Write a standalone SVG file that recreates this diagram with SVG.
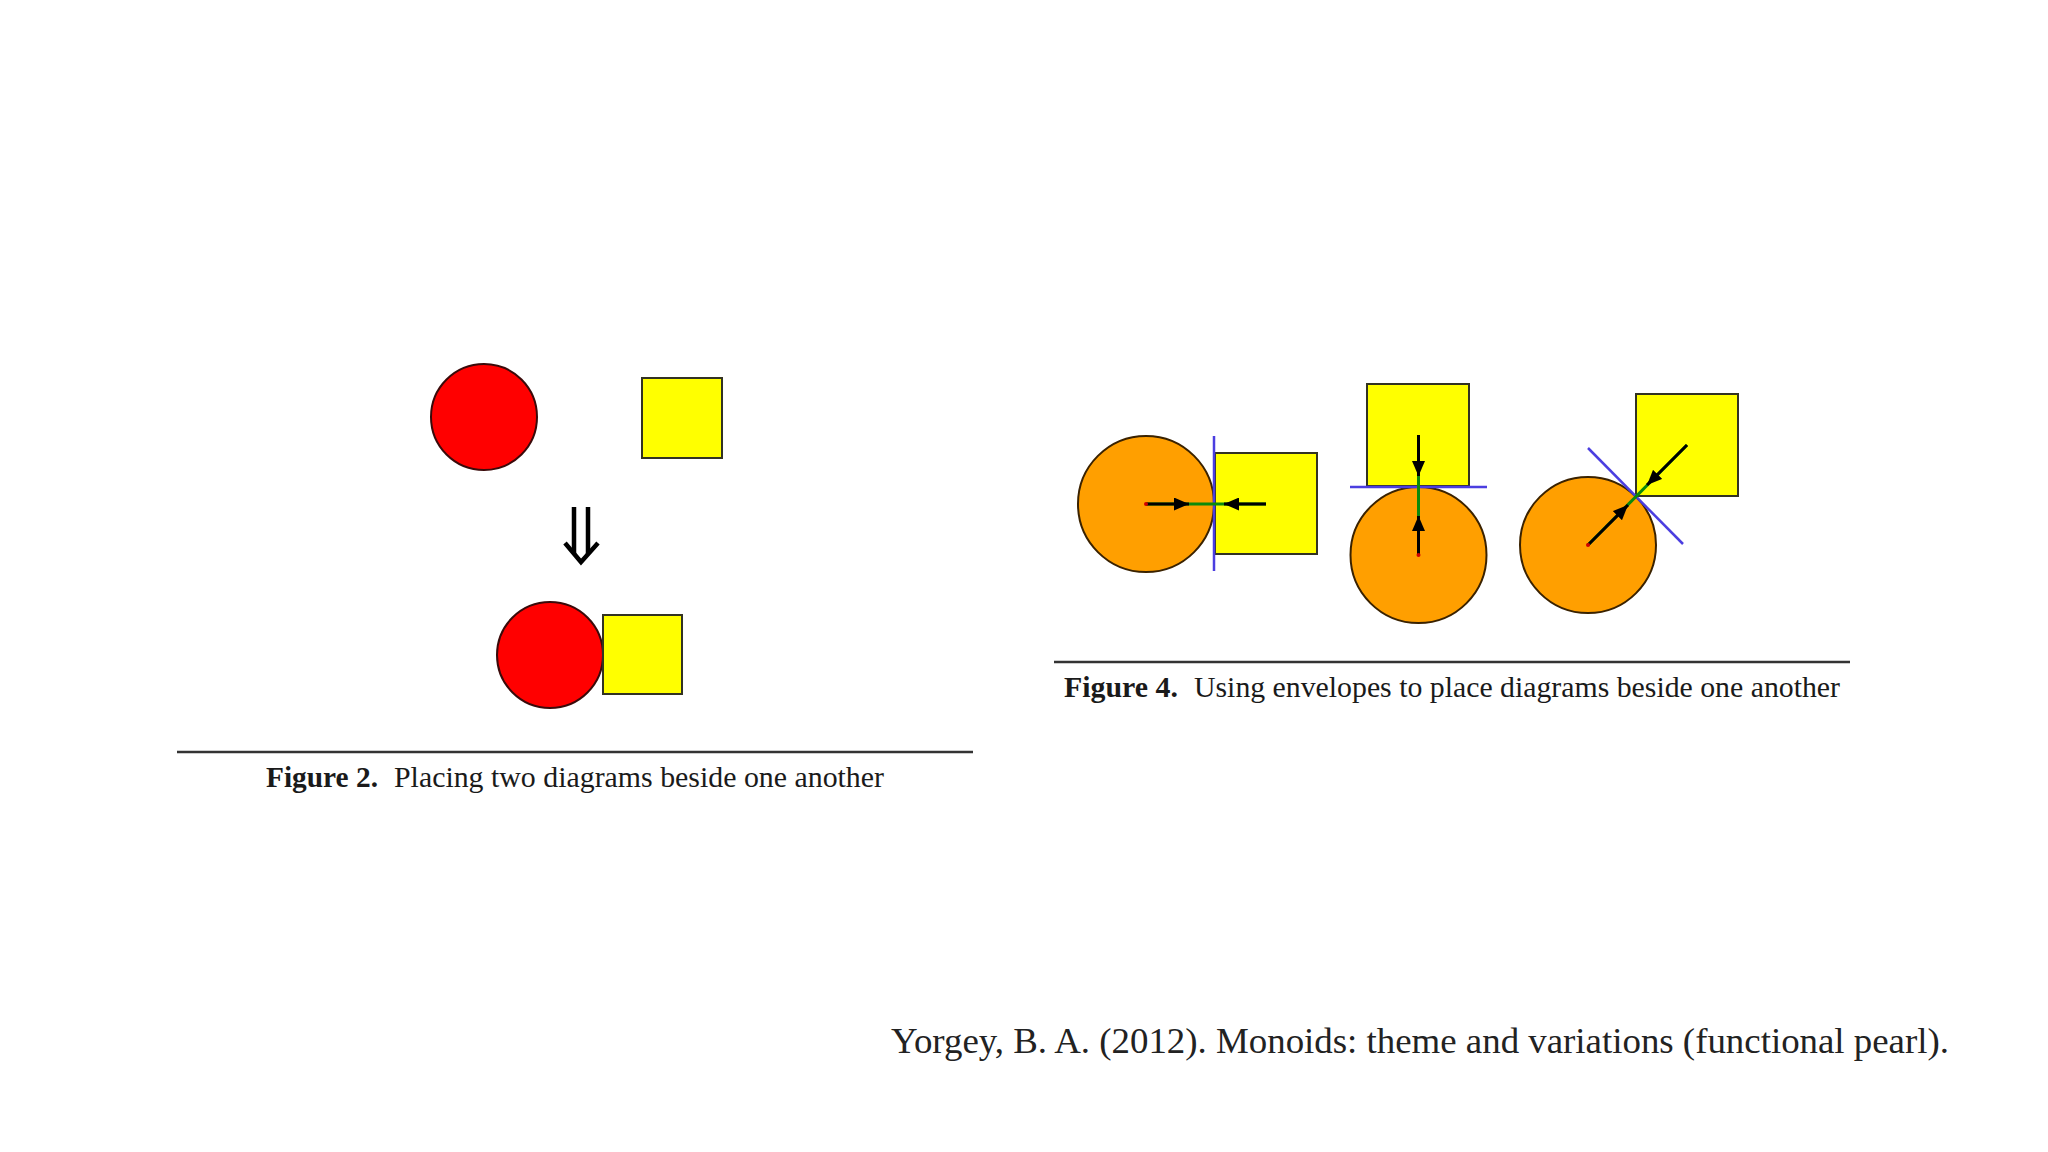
<svg xmlns="http://www.w3.org/2000/svg" width="2048" height="1152" viewBox="0 0 2048 1152">
  <defs>
    <marker id="head" viewBox="0 0 15 13" refX="15" refY="6.5" markerWidth="15" markerHeight="13" markerUnits="userSpaceOnUse" orient="auto">
      <path d="M0,0 L15,6.5 L0,13 z" fill="#000"/>
    </marker>
  </defs>
  <style>
    .red { fill: #ff0000; stroke: #3a0a0a; stroke-width: 2; }
    .yel { fill: #ffff00; stroke: #333322; stroke-width: 2; }
    .org { fill: #ff9f00; stroke: #3a2200; stroke-width: 2; }
    .env { stroke: #4b3ee0; stroke-width: 2.5; fill: none; }
    .vec { stroke: #0b8a0b; stroke-width: 3; fill: none; }
    .arr { stroke: #000; stroke-width: 3; fill: none; marker-end: url(#head); }
    .dot { fill: #d00000; }
    .rule { stroke: #333; stroke-width: 2.5; }
    .cap { font-family: "Liberation Serif", "Times New Roman", serif; font-size: 30px; fill: #1a1a1a; }
    .capb { font-weight: bold; }
    .cite { font-family: "Liberation Serif", "Times New Roman", serif; font-size: 35px; fill: #222; }
  </style>
  <rect width="2048" height="1152" fill="#ffffff"/>

  <!-- Figure 2 -->
  <g id="fig2-circle-top"><circle class="red" cx="484" cy="417" r="53"/></g>
  <g id="fig2-square-top"><rect class="yel" x="642" y="378" width="80" height="80"/></g>
  <g id="fig2-downarrow">
    <path d="M574,507 V554 M588,507 V554" stroke="#000" stroke-width="4.5" fill="none"/>
    <path d="M565,543 L581,562 L598,543" stroke="#000" stroke-width="4.5" fill="none" stroke-linejoin="miter"/>
  </g>
  <g id="fig2-circle-bottom"><circle class="red" cx="550" cy="655" r="53"/></g>
  <g id="fig2-square-bottom"><rect class="yel" x="603" y="615" width="79" height="79"/></g>
  <g id="fig2-caption">
    <line class="rule" x1="177" y1="752" x2="973" y2="752"/>
    <text class="cap capb" x="266" y="787" textLength="112" lengthAdjust="spacingAndGlyphs">Figure 2.</text>
    <text class="cap" x="394" y="787" textLength="490" lengthAdjust="spacingAndGlyphs">Placing two diagrams beside one another</text>
  </g>

  <!-- Figure 4 panel 1 -->
  <g id="fig4-p1-circle"><circle class="org" cx="1146" cy="504" r="68"/></g>
  <g id="fig4-p1-square"><rect class="yel" x="1215" y="453" width="102" height="101"/></g>
  <!-- Figure 4 panel 2 -->
  <g id="fig4-p2-square"><rect class="yel" x="1367" y="384" width="102" height="102"/></g>
  <g id="fig4-p2-circle"><circle class="org" cx="1418.5" cy="555" r="68"/></g>
  <!-- Figure 4 panel 3 -->
  <g id="fig4-p3-circle"><circle class="org" cx="1588" cy="545" r="68"/></g>
  <g id="fig4-p3-square"><rect class="yel" x="1636" y="394" width="102" height="102"/></g>

  <g id="connectors">
    <!-- panel 1 -->
    <line class="env" x1="1214" y1="436" x2="1214" y2="571"/>
    <line class="vec" x1="1146" y1="504" x2="1266" y2="504"/>
    <line class="arr" x1="1146" y1="504" x2="1189" y2="504"/>
    <line class="arr" x1="1266" y1="504" x2="1224" y2="504"/>
    <circle class="dot" cx="1146" cy="504" r="2"/>
    <!-- panel 2 -->
    <line class="env" x1="1350" y1="487" x2="1487" y2="487"/>
    <line class="vec" x1="1418.5" y1="435" x2="1418.5" y2="555"/>
    <line class="arr" x1="1418.5" y1="435" x2="1418.5" y2="476"/>
    <line class="arr" x1="1418.5" y1="555" x2="1418.5" y2="516"/>
    <circle class="dot" cx="1418.5" cy="555" r="2"/>
    <!-- panel 3 -->
    <line class="env" x1="1588" y1="448" x2="1683" y2="544"/>
    <line class="vec" x1="1588" y1="545" x2="1687" y2="445"/>
    <line class="arr" x1="1588" y1="545" x2="1628" y2="505"/>
    <line class="arr" x1="1687" y1="445" x2="1647" y2="485"/>
    <circle class="dot" cx="1588" cy="545" r="2"/>
  </g>

  <g id="fig4-caption">
    <line class="rule" x1="1054" y1="662" x2="1850" y2="662"/>
    <text class="cap capb" x="1064" y="697" textLength="114" lengthAdjust="spacingAndGlyphs">Figure 4.</text>
    <text class="cap" x="1194" y="697" textLength="646" lengthAdjust="spacingAndGlyphs">Using envelopes to place diagrams beside one another</text>
  </g>

  <g id="citation">
    <text class="cite" x="891" y="1053" textLength="1058" lengthAdjust="spacingAndGlyphs">Yorgey, B. A. (2012). Monoids: theme and variations (functional pearl).</text>
  </g>
</svg>
